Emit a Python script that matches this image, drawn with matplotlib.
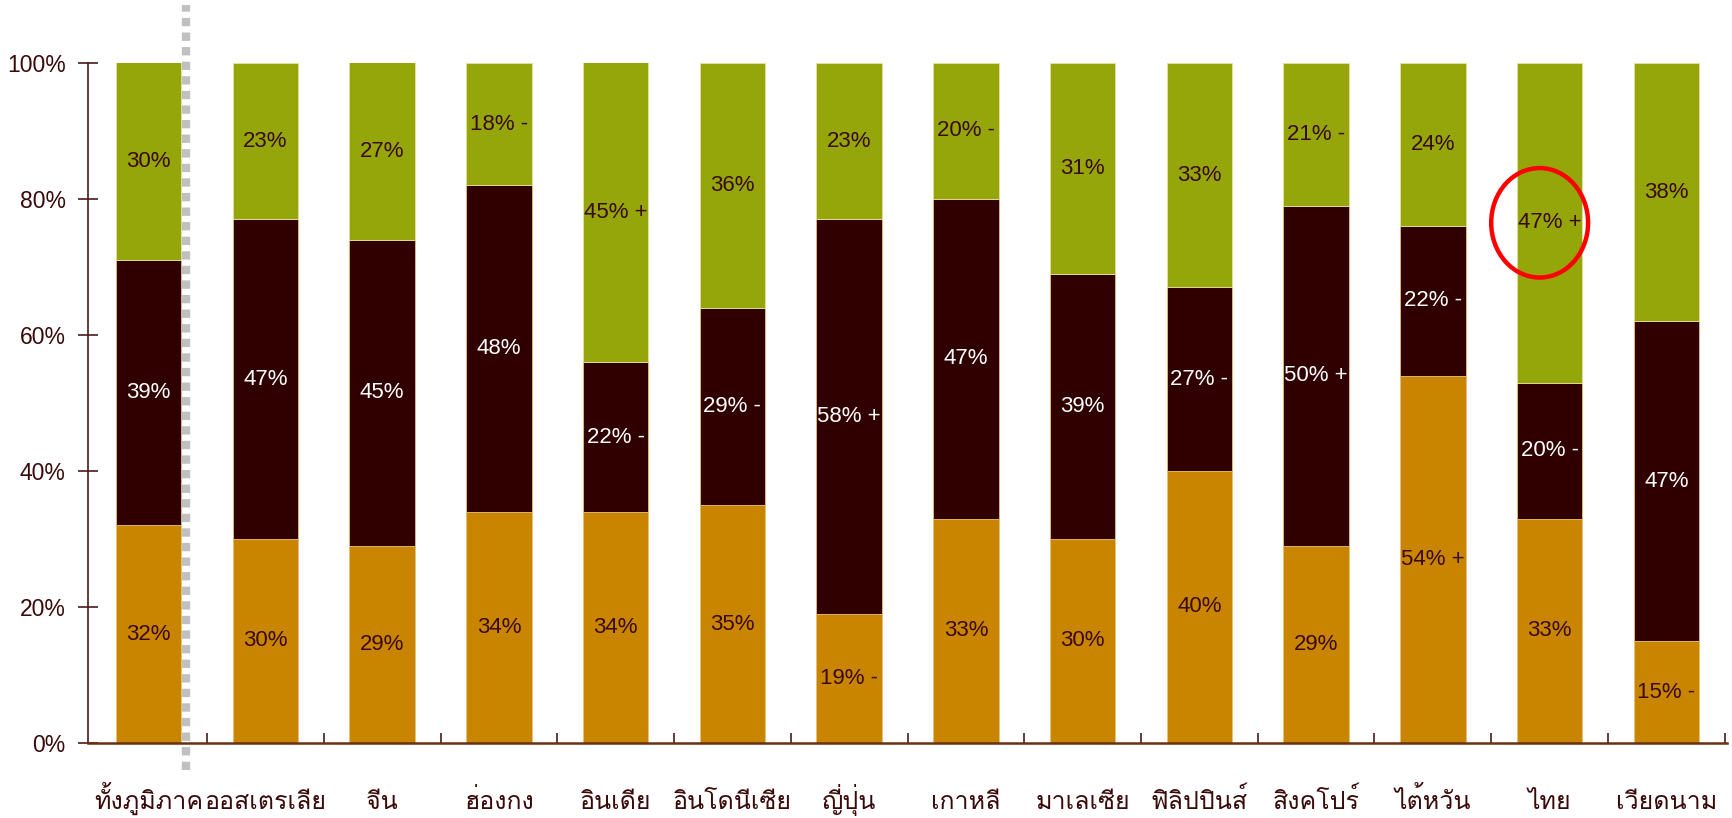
import matplotlib
matplotlib.use("Agg")
import matplotlib.pyplot as plt
from matplotlib import font_manager
from matplotlib.patches import Ellipse
import matplotlib.transforms as mtransforms
import numpy as np

# ---------------- data ----------------
categories = ["ทั้งภูมิภาค", "ออสเตรเลีย", "จีน", "ฮ่องกง", "อินเดีย", "อินโดนีเซีย", "ญี่ปุ่น",
              "เกาหลี", "มาเลเซีย", "ฟิลิปปินส์", "สิงคโปร์", "ไต้หวัน", "ไทย", "เวียดนาม"]
bottom_vals = [32, 30, 29, 34, 34, 35, 19, 33, 30, 40, 29, 54, 33, 15]
middle_vals = [39, 47, 45, 48, 22, 29, 58, 47, 39, 27, 50, 22, 20, 47]
top_vals = [30, 23, 27, 18, 45, 36, 23, 20, 31, 33, 21, 24, 47, 38]
bottom_marks = ["", "", "", "", "", "", "-", "", "", "", "", "+", "", "-"]
middle_marks = ["", "", "", "", "-", "-", "+", "", "", "-", "+", "-", "-", ""]
top_marks = ["", "", "", "-", "+", "", "", "-", "", "", "-", "", "+", ""]
y_ticks = [0, 20, 40, 60, 80, 100]
y_tick_labels = ["0%", "20%", "40%", "60%", "80%", "100%"]
highlight_index = 12

# ---------------- fonts ----------------
installed = {f.name for f in font_manager.fontManager.ttflist}
thai_pref = ["Loma", "Garuda", "Noto Sans Thai Looped", "Niramit", "Kinnari", "Norasi"]
thai_family = [f for f in thai_pref if f in installed] + ["DejaVu Sans"]
num_family = ["Liberation Sans", "DejaVu Sans"]

C_BOTTOM = "#C98500"
C_MIDDLE = "#300000"
C_TOP = "#94A60A"
C_TEXT = "#3A0A0A"
C_AXIS = "#4A1A1A"

fig = plt.figure(figsize=(17.33, 8.18), dpi=100)
ax = fig.add_axes([88 / 1733, 1 - 743 / 818, (1727 - 88) / 1733, (743 - 63) / 818])

x = np.arange(len(categories))
w = 0.56
b = np.array(bottom_vals)
m = np.array(middle_vals)
t = np.array(top_vals)
ax.bar(x, b, w, color=C_BOTTOM, edgecolor="#E8C070", linewidth=0.6)
ax.bar(x, m, w, bottom=b, color=C_MIDDLE, edgecolor="#E8C070", linewidth=0.6)
ax.bar(x, t, w, bottom=b + m, color=C_TOP, edgecolor="#E8E0A0", linewidth=0.6)

def lab(v, mk):
    return f"{v}% {mk}" if mk else f"{v}%"

for i in range(len(categories)):
    ax.text(x[i], b[i] / 2, lab(b[i], bottom_marks[i]), ha="center", va="center",
            color=C_TEXT, fontsize=16, family=num_family)
    ax.text(x[i], b[i] + m[i] / 2, lab(m[i], middle_marks[i]), ha="center", va="center",
            color="white", fontsize=16, family=num_family)
    ytop = b[i] + m[i]
    ax.text(x[i], ytop + (100 - ytop) / 2, lab(t[i], top_marks[i]), ha="center", va="center",
            color=C_TEXT, fontsize=16, family=num_family)

ax.set_xlim(-0.52, len(categories) - 0.48)
ax.set_ylim(0, 100)
ax.set_yticks(y_ticks)
ax.set_yticklabels(y_tick_labels, fontsize=16.5, color=C_TEXT, family=num_family)
ax.tick_params(axis="y", direction="inout", length=14, width=1.2, color=C_AXIS, pad=9)

ax.set_xticks([])
ax.set_xticks(np.arange(len(categories)) + 0.5, minor=True)
ax.tick_params(axis="x", which="minor", direction="in", length=7, width=1.2, color=C_AXIS)

# category labels (Thai), placed with a fixed baseline below the axis
trans = mtransforms.blended_transform_factory(ax.transData, ax.transAxes)
for i, c in enumerate(categories):
    ax.text(x[i], -0.097, c, transform=trans, ha="center", va="baseline",
            fontsize=18, color=C_TEXT, family=thai_family, clip_on=False)

for s in ["top", "right"]:
    ax.spines[s].set_visible(False)
ax.spines["left"].set_color(C_AXIS)
ax.spines["left"].set_linewidth(1.2)
ax.spines["bottom"].set_color("#6A3010")
ax.spines["bottom"].set_linewidth(1.8)

# dotted separator between region total and countries
ax.plot([0.32, 0.32], [-4, 108.5], color="#C0C0C0", linewidth=6,
        linestyle=(0, (1.0, 0.75)), clip_on=False, zorder=5,
        solid_capstyle="butt", dash_capstyle="butt")

# highlight ellipse
yt = bottom_vals[highlight_index] + middle_vals[highlight_index]
ax.add_patch(Ellipse((highlight_index - 0.085, yt + (100 - yt) / 2), 0.83, 16.1,
                     fill=False, edgecolor="#FF0000", linewidth=3.2, zorder=6, clip_on=False))

fig.savefig("out.png", dpi=100)
